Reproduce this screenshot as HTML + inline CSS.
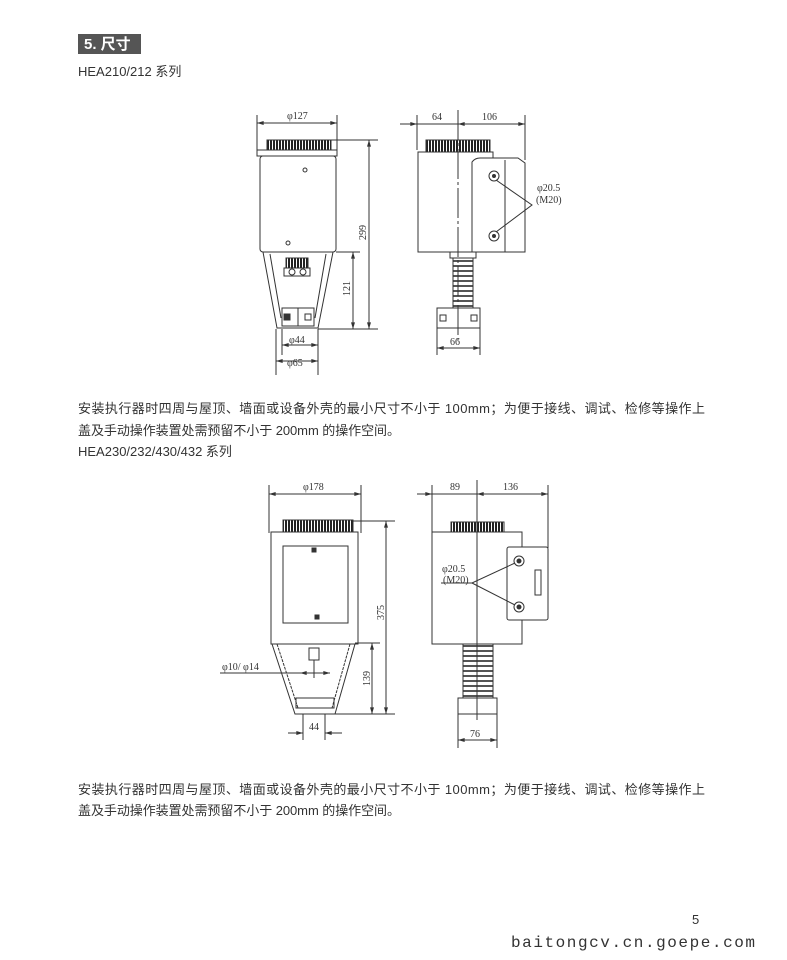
<!DOCTYPE html>
<html><head><meta charset="utf-8"><style>
body{margin:0;background:#fff;}
svg{display:block}
.t{font-family:"Liberation Sans","Noto Sans CJK SC",sans-serif;fill:#333;font-size:13px}
.d{font-family:"Liberation Serif","Noto Serif CJK SC",serif;fill:#333;font-size:10px}
</style></head><body>
<svg width="787" height="960" viewBox="0 0 787 960" xmlns="http://www.w3.org/2000/svg">
<defs>
<marker id="a" viewBox="0 0 10 6" refX="10" refY="3" markerWidth="8" markerHeight="4" orient="auto-start-reverse"><path d="M0,0L10,3L0,6z" fill="#333"/></marker>
<pattern id="kn" width="3" height="4" patternUnits="userSpaceOnUse"><rect width="2" height="4" fill="#222"/></pattern>
<pattern id="fin" width="4" height="5" patternUnits="userSpaceOnUse"><rect width="4" height="2" fill="#555"/></pattern>
</defs>
<rect x="78" y="34" width="63" height="20" fill="#555"/>
<text x="84" y="49" font-family="Liberation Sans,Noto Sans CJK SC,sans-serif" font-size="15" font-weight="bold" fill="#fff">5. 尺寸</text>
<text class="t" x="78" y="76">HEA210/212 系列</text>

<g stroke="#333" fill="none" stroke-width="1">
<line x1="257" y1="115" x2="257" y2="150"/><line x1="337" y1="115" x2="337" y2="150"/>
<line x1="257" y1="123" x2="337" y2="123" marker-start="url(#a)" marker-end="url(#a)"/>
<rect x="267" y="140" width="64" height="11" fill="url(#kn)"/>
<rect x="257" y="150" width="80" height="6" fill="#fff"/>
<rect x="260" y="156" width="76" height="96" rx="3" fill="#fff"/>
<circle cx="305" cy="170" r="2"/><circle cx="288" cy="243" r="2"/>
<path d="M263 252L277 328H318L333 252Z" fill="#fff"/>
<path d="M270 254L281 318M326 254L315 318"/>
<rect x="286" y="258" width="22" height="10" fill="url(#kn)"/>
<rect x="284" y="268" width="26" height="8"/>
<circle cx="292" cy="272" r="3"/><circle cx="303" cy="272" r="3"/>
<rect x="282" y="308" width="32" height="18"/><line x1="298" y1="308" x2="298" y2="326"/>
<rect x="284" y="314" width="6" height="6" fill="#333"/><rect x="305" y="314" width="6" height="6"/>
<line x1="331" y1="140" x2="378" y2="140"/><line x1="318" y1="329" x2="378" y2="329"/>
<line x1="336" y1="252" x2="360" y2="252"/>
<line x1="369" y1="140" x2="369" y2="329" marker-start="url(#a)" marker-end="url(#a)"/>
<line x1="353" y1="252" x2="353" y2="329" marker-start="url(#a)" marker-end="url(#a)"/>
<line x1="282" y1="329" x2="282" y2="355"/><line x1="318" y1="329" x2="318" y2="375"/><line x1="276" y1="329" x2="276" y2="375"/>
<line x1="282" y1="345" x2="318" y2="345" marker-start="url(#a)" marker-end="url(#a)"/>
<line x1="276" y1="361" x2="318" y2="361" marker-start="url(#a)" marker-end="url(#a)"/>
<line x1="417" y1="115" x2="417" y2="150"/><line x1="525" y1="115" x2="525" y2="160"/>
<line x1="400" y1="124" x2="525" y2="124"/>
<line x1="400" y1="124" x2="417" y2="124" marker-end="url(#a)"/>
<line x1="458" y1="124" x2="472" y2="124" marker-start="url(#a)"/>
<line x1="510" y1="124" x2="525" y2="124" marker-end="url(#a)"/>
<rect x="426" y="140" width="64" height="12" fill="url(#kn)"/>
<rect x="418" y="152" width="75" height="100" fill="#fff"/>
<path d="M472 252V162Q475 158 480 158H518L525 163V252Z" fill="#fff"/>
<line x1="505" y1="160" x2="505" y2="252"/>
<circle cx="494" cy="176" r="5"/><circle cx="494" cy="176" r="1.5" fill="#333"/>
<circle cx="494" cy="236" r="5"/><circle cx="494" cy="236" r="1.5" fill="#333"/>
<path d="M496 180L532 205L496 232"/>
<rect x="450" y="252" width="26" height="6"/>
<rect x="453" y="258" width="20" height="50" fill="url(#fin)" stroke="#333"/>
<rect x="437" y="308" width="43" height="20" fill="#fff"/>
<rect x="440" y="315" width="6" height="6"/><rect x="471" y="315" width="6" height="6"/>
<line x1="458" y1="110" x2="458" y2="340" stroke-dasharray="30 3 3 3"/>
<line x1="437" y1="328" x2="437" y2="355"/><line x1="480" y1="328" x2="480" y2="355"/>
<line x1="437" y1="348" x2="480" y2="348" marker-start="url(#a)" marker-end="url(#a)"/>

<line x1="269" y1="485" x2="269" y2="533"/><line x1="361" y1="485" x2="361" y2="533"/>
<line x1="269" y1="494" x2="361" y2="494" marker-start="url(#a)" marker-end="url(#a)"/>
<rect x="283" y="520" width="70" height="12" fill="url(#kn)"/>
<rect x="271" y="532" width="87" height="112" fill="#fff"/>
<rect x="283" y="546" width="65" height="77"/>
<rect x="312" y="548" width="4" height="4" fill="#333"/><rect x="315" y="615" width="4" height="4" fill="#333"/>
<path d="M272 644L295 714H335L355 644Z" fill="#fff"/>
<path d="M277 644L298 708M350 644L332 708" stroke-dasharray="3 1"/>
<rect x="296" y="698" width="38" height="10"/>
<rect x="309" y="648" width="10" height="12"/><line x1="314" y1="660" x2="314" y2="678"/>
<line x1="353" y1="521" x2="395" y2="521"/><line x1="335" y1="714" x2="395" y2="714"/><line x1="355" y1="643" x2="380" y2="643"/>
<line x1="386" y1="521" x2="386" y2="714" marker-start="url(#a)" marker-end="url(#a)"/>
<line x1="372" y1="643" x2="372" y2="714" marker-start="url(#a)" marker-end="url(#a)"/>
<line x1="220" y1="673" x2="300" y2="673"/>
<line x1="300" y1="673" x2="330" y2="673" marker-start="url(#a)" marker-end="url(#a)"/>
<line x1="303" y1="714" x2="303" y2="740"/><line x1="325" y1="714" x2="325" y2="740"/>
<line x1="288" y1="733" x2="303" y2="733" marker-end="url(#a)"/>
<line x1="325" y1="733" x2="342" y2="733" marker-start="url(#a)"/>
<line x1="432" y1="485" x2="432" y2="533"/><line x1="548" y1="485" x2="548" y2="548"/>
<line x1="417" y1="494" x2="548" y2="494"/>
<line x1="417" y1="494" x2="432" y2="494" marker-end="url(#a)"/>
<line x1="477" y1="494" x2="492" y2="494" marker-start="url(#a)"/>
<line x1="535" y1="494" x2="548" y2="494" marker-end="url(#a)"/>
<rect x="451" y="522" width="53" height="10" fill="url(#kn)"/>
<rect x="432" y="532" width="90" height="112" fill="#fff"/>
<rect x="507" y="547" width="41" height="73" rx="2" fill="#fff"/>
<rect x="535" y="570" width="6" height="25"/>
<circle cx="519" cy="561" r="5"/><circle cx="519" cy="561" r="2" fill="#333"/>
<circle cx="519" cy="607" r="5"/><circle cx="519" cy="607" r="2" fill="#333"/>
<path d="M441 583H472L515 563M472 583L515 605"/>
<rect x="463" y="644" width="30" height="56" fill="url(#fin)" stroke="#333"/>
<rect x="458" y="698" width="39" height="16" fill="#fff"/>
<line x1="477" y1="480" x2="477" y2="720"/>
<line x1="458" y1="714" x2="458" y2="748"/><line x1="497" y1="714" x2="497" y2="748"/>
<line x1="458" y1="740" x2="497" y2="740" marker-start="url(#a)" marker-end="url(#a)"/>
</g>

<g class="d">
<text x="287" y="119">φ127</text>
<text x="432" y="120">64</text><text x="482" y="120">106</text>
<text x="537" y="191">φ20.5</text><text x="536" y="203">(M20)</text>
<text x="366" y="240" transform="rotate(-90 366 240)">299</text>
<text x="350" y="296" transform="rotate(-90 350 296)">121</text>
<text x="289" y="343">φ44</text><text x="287" y="366">φ65</text>
<text x="450" y="345">66</text>
<text x="303" y="490">φ178</text>
<text x="450" y="490">89</text><text x="503" y="490">136</text>
<text x="442" y="572">φ20.5</text><text x="443" y="583">(M20)</text>
<text x="384" y="620" transform="rotate(-90 384 620)">375</text>
<text x="370" y="686" transform="rotate(-90 370 686)">139</text>
<text x="222" y="670">φ10/ φ14</text>
<text x="309" y="730">44</text><text x="470" y="737">76</text>
</g>

<text class="t" x="78" y="413" textLength="627" lengthAdjust="spacing">安装执行器时四周与屋顶、墙面或设备外壳的最小尺寸不小于 100mm；为便于接线、调试、检修等操作上</text>
<text class="t" x="78" y="435" textLength="322" lengthAdjust="spacing">盖及手动操作装置处需预留不小于 200mm 的操作空间。</text>
<text class="t" x="78" y="456">HEA230/232/430/432 系列</text>
<text class="t" x="78" y="794" textLength="627" lengthAdjust="spacing">安装执行器时四周与屋顶、墙面或设备外壳的最小尺寸不小于 100mm；为便于接线、调试、检修等操作上</text>
<text class="t" x="78" y="815" textLength="322" lengthAdjust="spacing">盖及手动操作装置处需预留不小于 200mm 的操作空间。</text>
<text class="t" x="692" y="924" font-size="12">5</text>
<text x="511" y="947" font-family="Liberation Mono,monospace" font-size="16" fill="#333" textLength="244" lengthAdjust="spacing">baitongcv.cn.goepe.com</text>
</svg>
</body></html>
